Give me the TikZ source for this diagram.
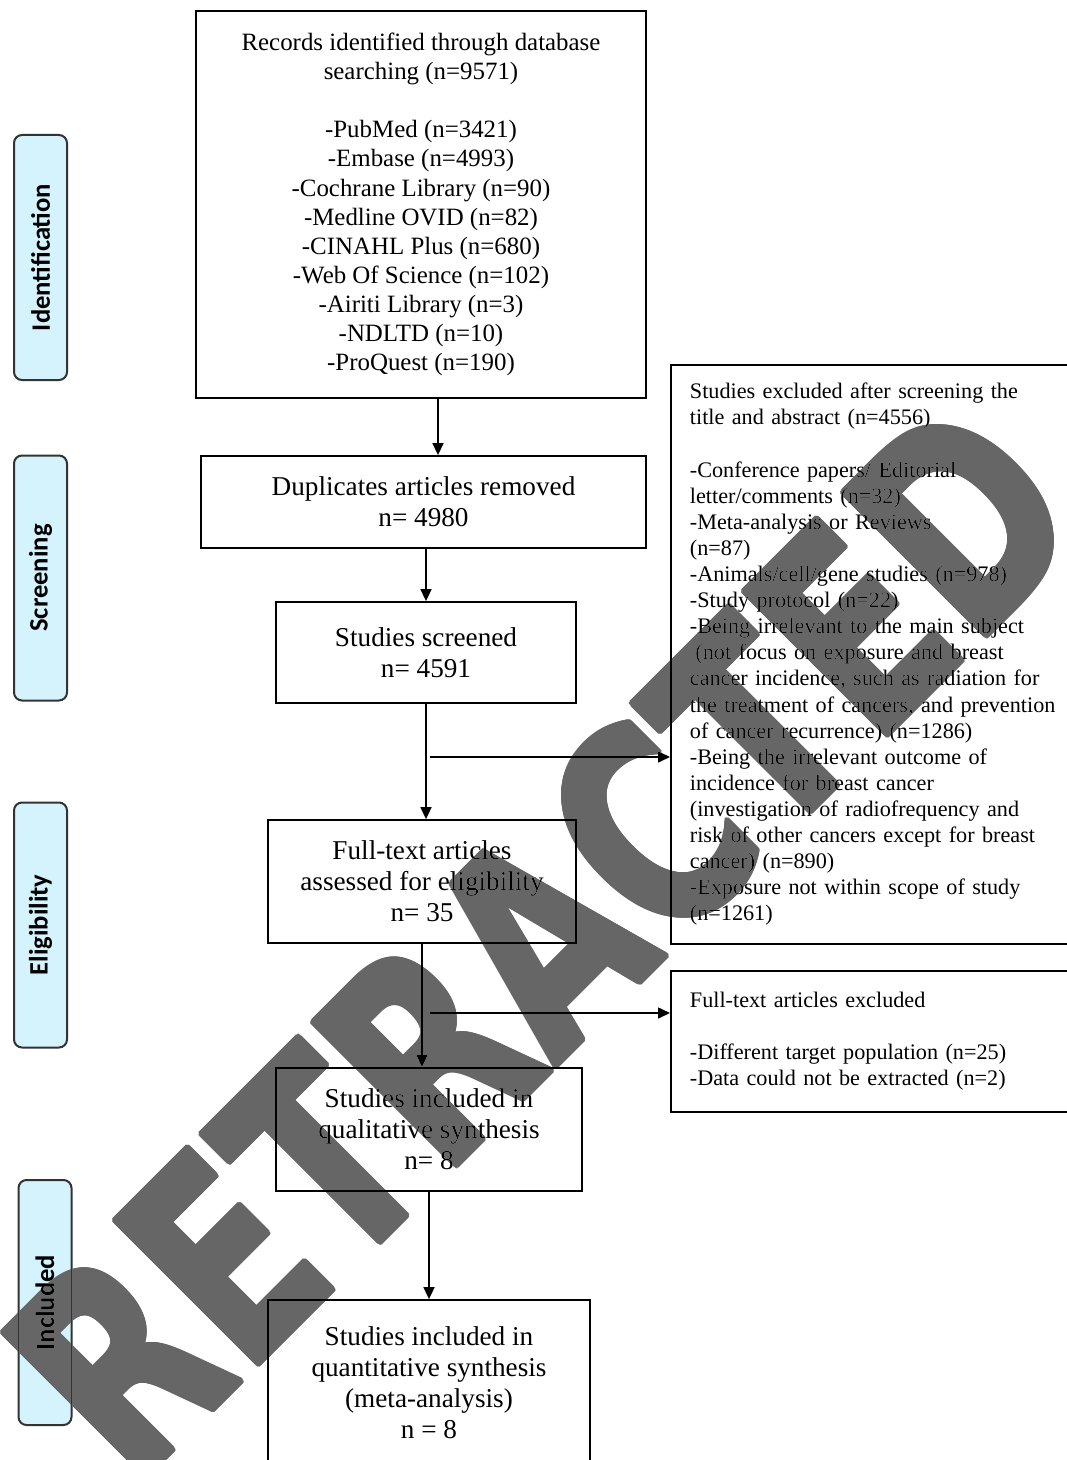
\documentclass[tikz,border=0pt]{standalone}
\usepackage{fontspec}
\setmainfont{Liberation Serif}
\newfontfamily\stagefont{Carlito}
\newfontfamily\stampfont{DejaVu Sans}
\usepackage[copies]{contour}
\contourlength{1.5pt}
\contournumber{16}
\usepackage{tikz}
\usetikzlibrary{shapes, arrows.meta, positioning}
\definecolor{stagefill}{RGB}{212,243,252}
\definecolor{stampgray}{gray}{0.4}
\tikzstyle{box} = [rectangle, text centered, align=center, draw=black, line width=0.9pt, inner sep=0pt, font=\fontsize{13.6pt}{15.5pt}\selectfont]
\tikzstyle{bigbox} = [box, font=\fontsize{12.45pt}{14.55pt}\selectfont]
\tikzstyle{exclbox} = [rectangle, anchor=north west, align=left, text width=190pt, inner xsep=9.5pt, inner ysep=0pt, draw=black, line width=0.9pt, font=\fontsize{11.1pt}{13.05pt}\selectfont]
\tikzstyle{stage} = [rectangle, rounded corners=4pt, rotate=90, draw=black!80, line width=1pt, fill=stagefill, minimum width=122.5pt, minimum height=26.5pt, font=\stagefont\bfseries\fontsize{13.3pt}{15pt}\selectfont]
\tikzstyle{stamp} = [rotate=45, xscale=0.74, inner sep=0pt, text=stampgray, font=\stampfont\bfseries\fontsize{139pt}{145pt}\selectfont]
\tikzstyle{arrow} = [-{Triangle[length=6pt,width=5.5pt]}, line width=0.8pt]

\begin{document}
\begin{tikzpicture}[x=0.5pt, y=-0.5pt]

    \path[use as bounding box, fill=white] (0,0) rectangle (1066,1460);

    % stages
    \node (ident) [stage] at (40.5, 257.5) {Identification};
    \node (screen) [stage] at (40.5, 578) {Screening};
    \node (elig) [stage] at (40.5, 925) {Eligibility};
    \node (incl) [stage] at (45, 1302.5) {Included};

    % main column
    \node (records) [bigbox, minimum width=225pt, minimum height=193.5pt] at (421, 204.5) {Records identified through database\\ searching (n=9571)\\[14.5pt] -PubMed (n=3421)\\ -Embase (n=4993)\\ -Cochrane Library (n=90)\\ -Medline OVID (n=82)\\ -CINAHL Plus (n=680)\\ -Web Of Science (n=102)\\ -Airiti Library (n=3)\\ -NDLTD (n=10)\\ -ProQuest (n=190)};
    \node (dupl) [box, minimum width=222.5pt, minimum height=46pt] at (423.5, 502) {Duplicates articles removed\\ n= 4980};
    \node (screened) [box, minimum width=150pt, minimum height=50.5pt] at (426, 652.5) {Studies screened\\ n= 4591};
    \node (fulltext) [box, minimum width=154pt, minimum height=61.5pt] at (422, 881.5) {Full-text articles\\ assessed for eligibility\\ n= 35};
    \node (qual) [box, minimum width=153pt, minimum height=61.5pt] at (429, 1129.5) {Studies included in\\ qualitative synthesis\\ n= 8};
    \node (quant) [box, minimum width=161pt, minimum height=82.5pt] at (429, 1382.5) {Studies included in\\ quantitative synthesis\\ (meta-analysis)\\ n = 8};

    % exclusions
    \node (excl1) [exclbox, minimum height=289.5pt] at (670, 364) {Studies excluded after screening the\\ title and abstract (n=4556)\\[13.05pt] -Conference papers/ Editorial\\ letter/comments (n=32)\\ -Meta-analysis or Reviews\\ (n=87)\\ -Animals/cell/gene studies (n=978)\\ -Study protocol (n=22)\\ -Being irrelevant to the main subject\\ \hspace*{0.25em}(not focus on exposure and breast\\ cancer incidence, such as radiation for\\ the treatment of cancers, and prevention\\ of cancer recurrence) (n=1286)\\ -Being the irrelevant outcome of\\ incidence for breast cancer\\ (investigation of radiofrequency and\\ risk of other cancers except for breast\\ cancer) (n=890)\\ -Exposure not within scope of study\\ (n=1261)};
    \node (excl2) [exclbox, minimum height=70.5pt] at (670, 970) {Full-text articles excluded\\[13.05pt] -Different target population (n=25)\\ -Data could not be extracted (n=2)};

    \coordinate (split1) at (430, 757);
    \coordinate (split2) at (430, 1013);

    \draw [arrow] ([xshift=8.5pt]records.south) -- ([xshift=8.5pt]records.south |- dupl.north);
    \draw [arrow] (dupl.south -| screened.south) -- (screened.north);
    \draw [arrow] (screened.south) -- (screened.south |- fulltext.north);
    \draw [arrow] (split1) -- (split1 -| excl1.west);
    \draw [arrow] (fulltext.south) -- (fulltext.south |- qual.north);
    \draw [arrow] (split2) -- (split2 -| excl2.west);
    \draw [arrow] (qual.south) -- (quant.north);

    % watermark
    \begin{scope}[blend mode=darken]
        \node (retracted) [stamp] at (542.8, 938.8) {\contour{stampgray}{RETRACTED}};
    \end{scope}

\end{tikzpicture}
\end{document}
